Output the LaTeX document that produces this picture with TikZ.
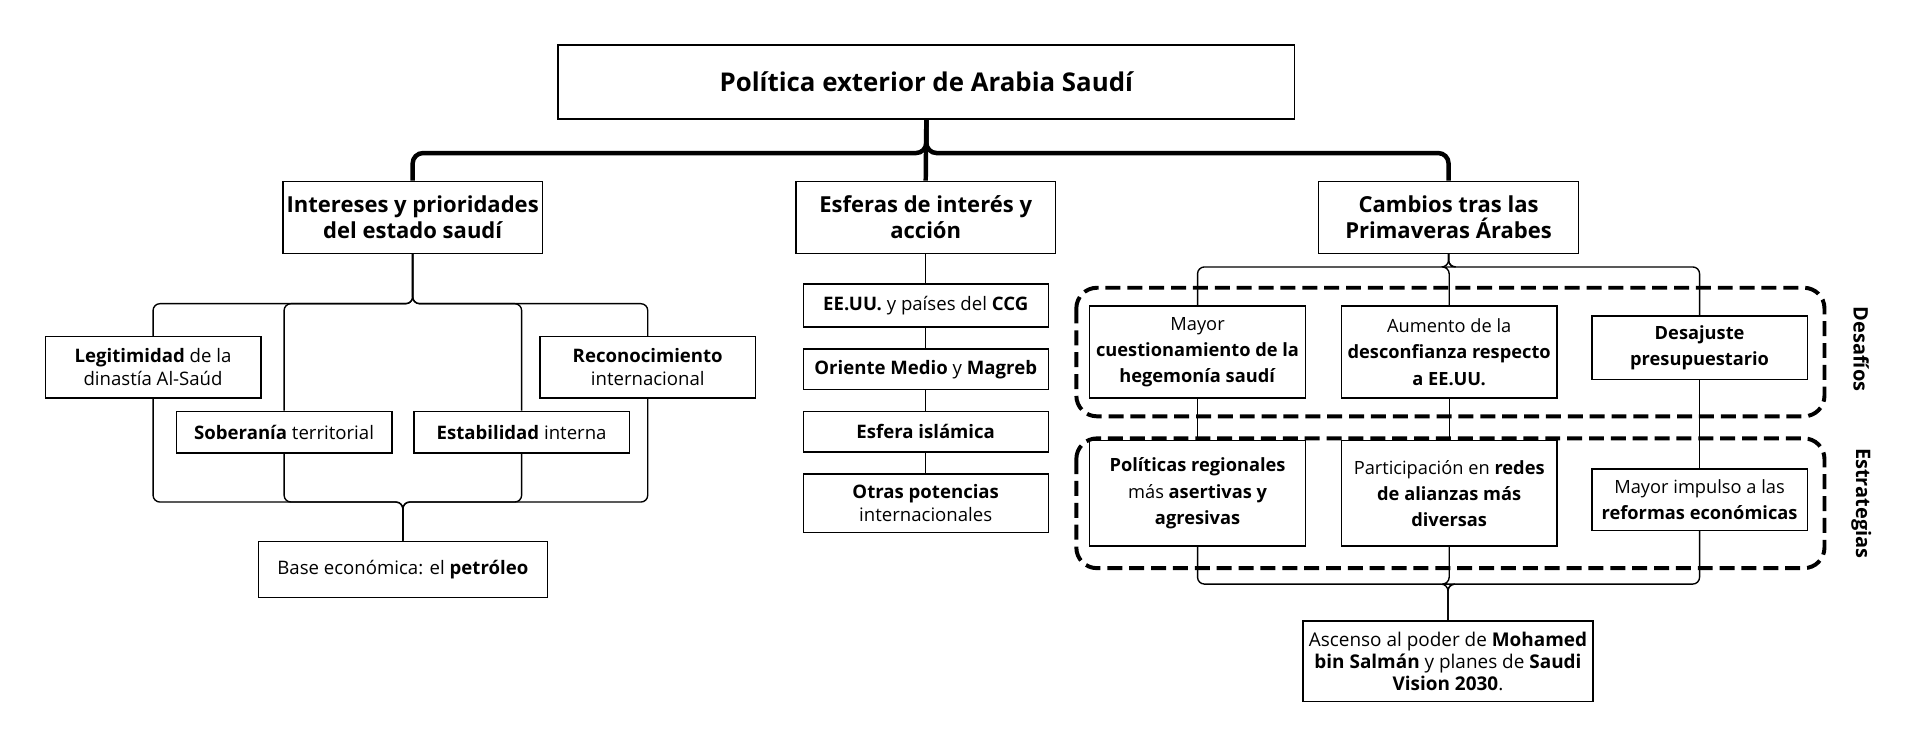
\documentclass[tikz,border=0pt]{standalone}
\usepackage{fontspec}
\setmainfont{Open Sans}

\begin{document}
\begin{tikzpicture}[x=0.025cm, y=-0.025cm,
  box/.style={draw, line width=0.8pt, align=center, inner sep=0pt, font=\fontsize{10.8pt}{13.5pt}\selectfont},
  headbox/.style={box, font=\bfseries\fontsize{12.8pt}{15pt}\selectfont, minimum width=5.3cm, minimum height=1.475cm},
  sidebox/.style={box, minimum width=4.4cm},
  listbox/.style={box, minimum width=5cm},
  rbox/.style={box, minimum width=4.4cm, font=\fontsize{10.6pt}{15.3pt}\selectfont},
  link/.style={line width=0.8pt, rounded corners=4pt},
  mainlink/.style={line width=2.6pt, rounded corners=6pt},
  groupbox/.style={line width=2.3pt, dash pattern=on 8.7pt off 4pt, rounded corners=12pt},
  grouplabel/.style={font=\bfseries\fontsize{11.6pt}{13pt}\selectfont, rotate=-90}]
  \useasboundingbox (0,0) rectangle (1568,599);
  % title and first level
  \node[box, line width=1pt, font=\bfseries\fontsize{15pt}{18pt}\selectfont, minimum width=15.025cm, minimum height=1.5cm] (title) at (756.5,67) {Política exterior de Arabia Saudí};
  \node[headbox] (inter) at (337,177.5) {Intereses y prioridades\\del estado saudí};
  \node[headbox] (esf) at (756,177.5) {Esferas de interés y\\acción};
  \node[headbox] (camb) at (1183,177.5) {Cambios tras las\\Primaveras Árabes};
  \coordinate (topbus) at (0,125);
  \draw[mainlink] (title.south) |- (inter.north |- topbus) -- (inter.north);
  \draw[mainlink] (title.south) |- (camb.north |- topbus) -- (camb.north);
  \draw[mainlink] (title.south) -- (esf.north);
  % interests of the saudi state
  \node[sidebox, minimum height=1.25cm] (legit) at (125,300) {\textbf{Legitimidad} de la\\dinastía Al-Saúd};
  \node[sidebox, minimum height=0.85cm] (sober) at (232,353) {\textbf{Soberanía} territorial};
  \node[sidebox, minimum height=0.85cm] (estab) at (426,353) {\textbf{Estabilidad} interna};
  \node[sidebox, minimum height=1.25cm] (recon) at (529,300) {\textbf{Reconocimiento}\\internacional};
  \node[box, minimum width=5.9cm, minimum height=1.15cm] (base) at (329,465) {Base económica: el \textbf{petróleo}};
  \coordinate (leftbus) at (0,248); \coordinate (basebus) at (0,410);
  \foreach \n in {legit,sober,estab,recon} {
    \draw[link] (inter.south) |- (\n.north |- leftbus) -- (\n.north);
    \draw[link] (\n.south) |- (base.north |- basebus) -- (base.north);
  }
  % spheres of interest
  \node[listbox, minimum height=0.875cm] (usa) at (756,249.5) {\textbf{EE.UU.} y países del \textbf{CCG}};
  \node[listbox, minimum height=0.825cm] (orient) at (756,301.5) {\textbf{Oriente Medio} y \textbf{Magreb}};
  \node[listbox, minimum height=0.825cm] (islam) at (756,352.5) {\textbf{Esfera islámica}};
  \node[listbox, minimum height=1.2cm] (otras) at (756,411) {\textbf{Otras potencias}\\internacionales};
  \foreach \a/\b in {esf/usa,usa/orient,orient/islam,islam/otras}
    \draw[link] (\a.south) -- (\b.north);
  % changes after the arab springs
  \draw[groupbox] (879,235) rectangle (1490,340);
  \draw[groupbox] (879,358) rectangle (1490,464);
  \node[grouplabel] (desafios) at (1520,285) {Desafíos};
  \node[grouplabel] (estrat) at (1520,411) {Estrategias};
  \node[rbox, minimum height=1.875cm] (cuest) at (978,287.5) {Mayor\\\textbf{cuestionamiento de la}\\\textbf{hegemonía saudí}};
  \node[rbox, minimum height=1.875cm] (desconf) at (1183.5,287.5) {Aumento de la\\\textbf{desconfianza respecto}\\\textbf{a EE.UU.}};
  \node[rbox, minimum height=1.3cm] (desaj) at (1388,284) {\textbf{Desajuste}\\\textbf{presupuestario}};
  \node[rbox, minimum height=2.15cm] (polit) at (978,403) {\textbf{Políticas regionales}\\más \textbf{asertivas y}\\\textbf{agresivas}};
  \node[rbox, minimum height=2.15cm] (redes) at (1183.5,403) {Participación en \textbf{redes}\\\textbf{de alianzas más}\\\textbf{diversas}};
  \node[rbox, minimum height=1.25cm] (reform) at (1388,408) {Mayor impulso a las\\\textbf{reformas económicas}};
  \node[box, minimum width=5.925cm, minimum height=1.65cm, font=\fontsize{11pt}{12.8pt}\selectfont] (ascenso) at (1182.5,540) {Ascenso al poder de \textbf{Mohamed}\\\textbf{bin Salmán} y planes de \textbf{Saudi}\\\textbf{Vision 2030}.};
  \coordinate (rightbus) at (0,218); \coordinate (lowbus) at (0,477);
  \foreach \a/\b in {cuest/polit,desconf/redes,desaj/reform} {
    \draw[link] (camb.south) |- (\a.north |- rightbus) -- (\a.north);
    \draw[link] (\a.south) -- (\b.north);
    \draw[link] (\b.south) |- (ascenso.north |- lowbus) -- (ascenso.north);
  }
\end{tikzpicture}
\end{document}
